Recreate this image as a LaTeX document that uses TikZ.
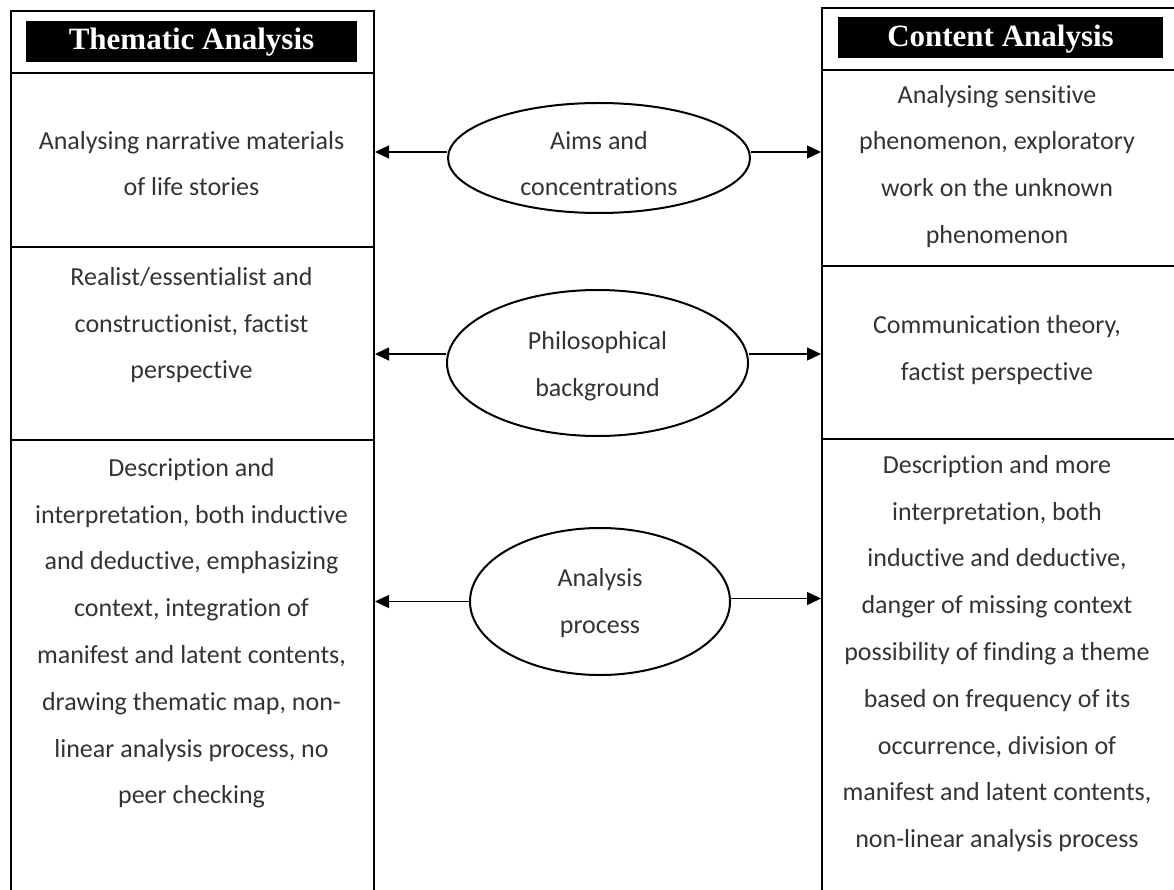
\documentclass[tikz,border=0pt]{standalone}
\usepackage{fontspec}
\setmainfont{Carlito}[Ligatures={NoCommon,NoContextual}]
\newfontfamily\headfont{Liberation Serif}
\usetikzlibrary{arrows.meta,shapes.geometric,calc}
% fixed height for the first line of every text block
\newcommand{\ts}{\rule{0pt}{22pt}}
\begin{document}
\begin{tikzpicture}[x=1pt,y=-1pt,
  cell/.style={draw,line width=2pt,rectangle,inner sep=0pt,anchor=north west},
  headbox/.style={fill=black,text=white,inner sep=0pt,text depth=0pt,
    font=\headfont\bfseries\fontsize{31}{31}\selectfont},
  txt/.style={anchor=north,inner sep=0pt,align=center,text=black!80,
    font=\fontsize{26}{46.8}\selectfont},
  oval/.style={draw,line width=2pt,ellipse,inner sep=0pt},
  arr/.style={line width=1.3pt,-{Triangle[length=14pt,width=13pt]}}]
\useasboundingbox (0,0) rectangle (1174,890);
\clip (0,0) rectangle (1174,890);

% left column: Thematic Analysis
\node[cell,minimum width=363pt,minimum height=62pt]  (lh) at (10,10) {};
\node[cell,minimum width=363pt,minimum height=174pt] (l1) at (10,72) {};
\node[cell,minimum width=363pt,minimum height=193pt] (l2) at (10,246) {};
\node[cell,minimum width=363pt,minimum height=470pt] (l3) at (10,439) {};
\node[headbox,text height=17pt,minimum width=331pt,minimum height=41pt] (lhb) at (191.5,41.5) {Thematic Analysis};

% right column: Content Analysis
\node[cell,minimum width=370pt,minimum height=62pt]  (rh) at (821,7) {};
\node[cell,minimum width=370pt,minimum height=196pt] (r1) at (821,69) {};
\node[cell,minimum width=370pt,minimum height=173pt] (r2) at (821,265) {};
\node[cell,minimum width=370pt,minimum height=470pt] (r3) at (821,438) {};
\node[headbox,text height=19pt,minimum width=325pt,minimum height=41pt] (rhb) at (1000.5,37.5) {Content Analysis};

% cell texts, left
\node[txt] (lt1) at (191.5,127) {\ts Analysing narrative materials\\of life stories};
\node[txt] (lt2) at (191.5,263) {\ts Realist/essentialist and\\constructionist, factist\\perspective};
\node[txt] (lt3) at (191.5,454) {\ts Description and\\interpretation, both inductive\\and deductive, emphasizing\\context, integration of\\manifest and latent contents,\\drawing thematic map, non-\\linear analysis process, no\\peer checking};

% cell texts, right
\node[txt] (rt1) at (997,81) {\ts Analysing sensitive\\phenomenon, exploratory\\work on the unknown\\phenomenon};
\node[txt] (rt2) at (997,311) {\ts Communication theory,\\factist perspective};
\node[txt] (rt3) at (997,451) {\ts Description and more\\interpretation, both\\inductive and deductive,\\danger of missing context\\possibility of finding a theme\\based on frequency of its\\occurrence, division of\\manifest and latent contents,\\non-linear analysis process};

% comparison criteria
\node[oval,minimum width=302pt,minimum height=110pt] (e1) at (599,158) {};
\node[oval,minimum width=301pt,minimum height=146pt] (e2) at (597.5,363) {};
\node[oval,minimum width=260pt,minimum height=147pt] (e3) at (600,601.5) {};
\node[txt] (et1) at (599,127) {\ts Aims and\\concentrations};
\node[txt] (et2) at (597.5,327) {\ts Philosophical\\background};
\node[txt] (et3) at (600,564) {\ts Analysis\\process};

% arrows to both columns
\draw[arr] ([yshift=6pt]e1.west) -- ([yshift=6pt]e1.west -| l1.east);
\draw[arr] ([yshift=6pt]e1.east) -- ([yshift=6pt]e1.east -| r1.west);
\draw[arr] ([yshift=9pt]e2.west) -- ([yshift=9pt]e2.west -| l2.east);
\draw[arr] ([yshift=9pt]e2.east) -- ([yshift=9pt]e2.east -| r2.west);
\draw[arr] (e3.west) -- (e3.west -| l3.east);
\draw[arr] ([yshift=3pt]e3.east) -- ([yshift=3pt]e3.east -| r3.west);
\end{tikzpicture}
\end{document}
